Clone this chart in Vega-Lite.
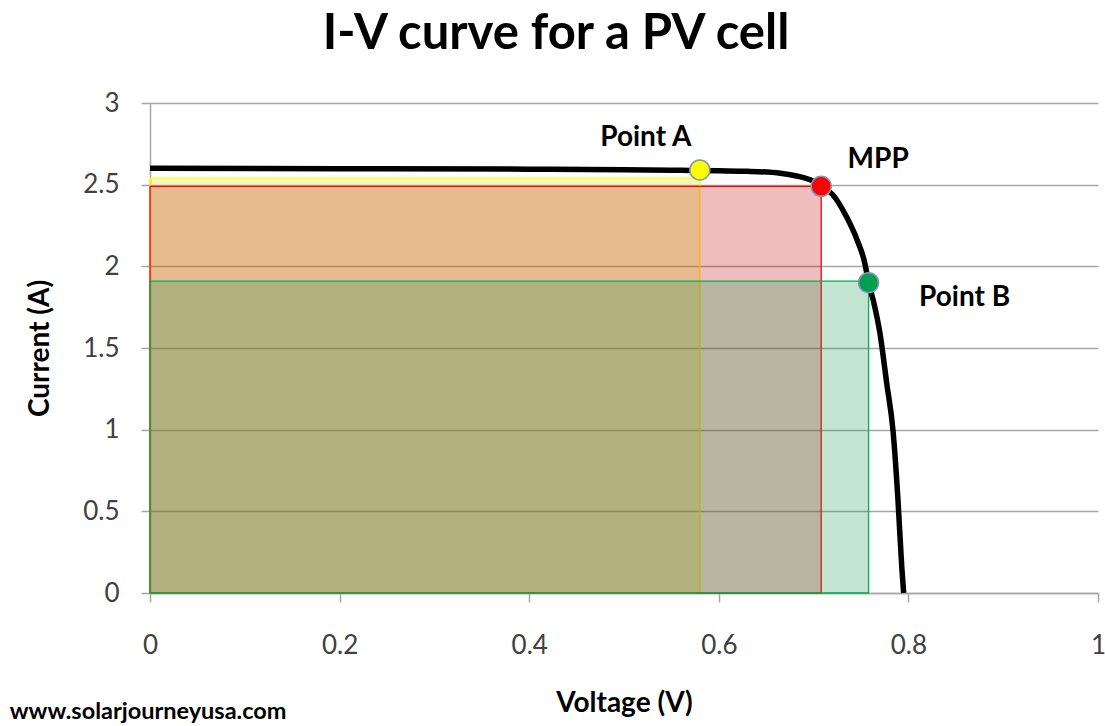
{
  "$schema": "https://vega.github.io/schema/vega-lite/v6.json",
  "width": 948,
  "height": 490,
  "autosize": "none",
  "padding": {"left": 150, "top": 103, "right": 7, "bottom": 133},
  "background": "white",
  "title": {"text": "I-V curve for a PV cell", "font": "Lato", "fontSize": 49, "fontWeight": "bold", "color": "#000000", "anchor": "middle", "frame": "group", "dx": -68, "offset": 31},
  "config": {"view": {"stroke": null}, "font": "Lato"},
  "datasets": {
    "curve": [
      {"v": 0, "i": 2.6}, {"v": 0.2, "i": 2.598}, {"v": 0.4, "i": 2.595}, {"v": 0.5, "i": 2.592},
      {"v": 0.56, "i": 2.588}, {"v": 0.6, "i": 2.585}, {"v": 0.63, "i": 2.582}, {"v": 0.665, "i": 2.57},
      {"v": 0.682, "i": 2.553}, {"v": 0.699, "i": 2.523}, {"v": 0.708, "i": 2.49}, {"v": 0.72, "i": 2.44},
      {"v": 0.735, "i": 2.3}, {"v": 0.746, "i": 2.16}, {"v": 0.754, "i": 2.02}, {"v": 0.758, "i": 1.9},
      {"v": 0.763, "i": 1.79}, {"v": 0.77, "i": 1.59}, {"v": 0.777, "i": 1.29}, {"v": 0.784, "i": 0.98},
      {"v": 0.789, "i": 0.57}, {"v": 0.793, "i": 0.16}, {"v": 0.795, "i": 0}
    ],
    "points": [
      {"name": "Point A", "v": 0.58, "i": 2.59},
      {"name": "MPP", "v": 0.708, "i": 2.49},
      {"name": "Point B", "v": 0.758, "i": 1.9}
    ],
    "rects": [
      {"name": "Point A", "v": 0.58, "i": 2.54},
      {"name": "MPP", "v": 0.708, "i": 2.49},
      {"name": "Point B", "v": 0.758, "i": 1.91}
    ]
  },
  "resolve": {"scale": {"fill": "independent", "stroke": "independent"}},
  "layer": [
    {
      "data": {"name": "rects"},
      "mark": {"type": "rect", "fillOpacity": 0.25, "strokeWidth": 1.3},
      "encoding": {
        "x": {"field": "v", "type": "quantitative", "scale": {"domain": [0, 1], "nice": false},
          "axis": {"title": "Voltage (V)", "values": [0, 0.2, 0.4, 0.6, 0.8, 1], "format": "~g", "grid": false, "labelFlush": false,
            "domainColor": "#A6A6A6", "domainWidth": 1.5, "tickColor": "#A6A6A6", "tickWidth": 1.5, "tickSize": 9,
            "labelPadding": 30, "labelFontSize": 26, "labelColor": "#404040", "labelFont": "Lato",
            "titleFontSize": 28, "titleFontWeight": "bold", "titleColor": "#000000", "titlePadding": 31, "titleFont": "Lato"}},
        "x2": {"datum": 0},
        "y": {"field": "i", "type": "quantitative", "scale": {"domain": [0, 3], "nice": false},
          "axis": {"title": "Current (A)", "values": [0, 0.5, 1, 1.5, 2, 2.5, 3], "format": "~g", "grid": true, "labelFlush": false,
            "gridColor": "#A6A6A6", "gridWidth": 1.3, "domainColor": "#A6A6A6", "domainWidth": 1.5,
            "tickColor": "#A6A6A6", "tickWidth": 1.5, "tickSize": 9, "labelPadding": 22, "labelFontSize": 26,
            "labelColor": "#404040", "labelFont": "Lato", "titleFontSize": 28, "titleFontWeight": "bold",
            "titleColor": "#000000", "titlePadding": 28, "titleFont": "Lato"}},
        "y2": {"datum": 0},
        "fill": {"field": "name", "type": "nominal", "scale": {"domain": ["Point A", "MPP", "Point B"], "range": ["#DCE400", "#C00000", "#14964B"]}, "legend": null},
        "stroke": {"field": "name", "type": "nominal", "scale": {"domain": ["Point A", "MPP", "Point B"], "range": ["#FFFF00", "#FF0000", "#00B050"]}, "legend": null}
      }
    },
    {
      "data": {"name": "curve"},
      "mark": {"type": "line", "color": "#000000", "strokeWidth": 5.5, "interpolate": "monotone"},
      "encoding": {
        "x": {"field": "v", "type": "quantitative"},
        "y": {"field": "i", "type": "quantitative"}
      }
    },
    {
      "data": {"name": "points"},
      "mark": {"type": "point", "shape": "circle", "filled": true, "size": 400, "opacity": 1, "stroke": "#8497B0", "strokeWidth": 1.5},
      "encoding": {
        "x": {"field": "v", "type": "quantitative"},
        "y": {"field": "i", "type": "quantitative"},
        "fill": {"field": "name", "type": "nominal", "scale": {"domain": ["Point A", "MPP", "Point B"], "range": ["#FFFF00", "#FF0000", "#00A050"]}, "legend": null}
      }
    },
    {
      "data": {"name": "points"},
      "transform": [{"filter": "datum.name == 'Point A'"}],
      "mark": {"type": "text", "font": "Lato", "fontSize": 28, "fontWeight": "bold", "color": "#000000", "dx": -54, "dy": -32},
      "encoding": {"x": {"field": "v", "type": "quantitative"}, "y": {"field": "i", "type": "quantitative"}, "text": {"field": "name"}}
    },
    {
      "data": {"name": "points"},
      "transform": [{"filter": "datum.name == 'MPP'"}],
      "mark": {"type": "text", "font": "Lato", "fontSize": 28, "fontWeight": "bold", "color": "#000000", "dx": 57, "dy": -26},
      "encoding": {"x": {"field": "v", "type": "quantitative"}, "y": {"field": "i", "type": "quantitative"}, "text": {"field": "name"}}
    },
    {
      "data": {"name": "points"},
      "transform": [{"filter": "datum.name == 'Point B'"}],
      "mark": {"type": "text", "font": "Lato", "fontSize": 28, "fontWeight": "bold", "color": "#000000", "dx": 96, "dy": 15},
      "encoding": {"x": {"field": "v", "type": "quantitative"}, "y": {"field": "i", "type": "quantitative"}, "text": {"field": "name"}}
    },
    {
      "data": {"values": [{"label": "www.solarjourneyusa.com"}]},
      "mark": {"type": "text", "font": "Lato", "fontSize": 23.5, "fontWeight": "bold", "color": "#000000", "align": "left", "baseline": "middle"},
      "encoding": {
        "x": {"datum": -0.148, "type": "quantitative"},
        "y": {"datum": -0.73, "type": "quantitative"},
        "text": {"field": "label"}
      }
    }
  ]
}
